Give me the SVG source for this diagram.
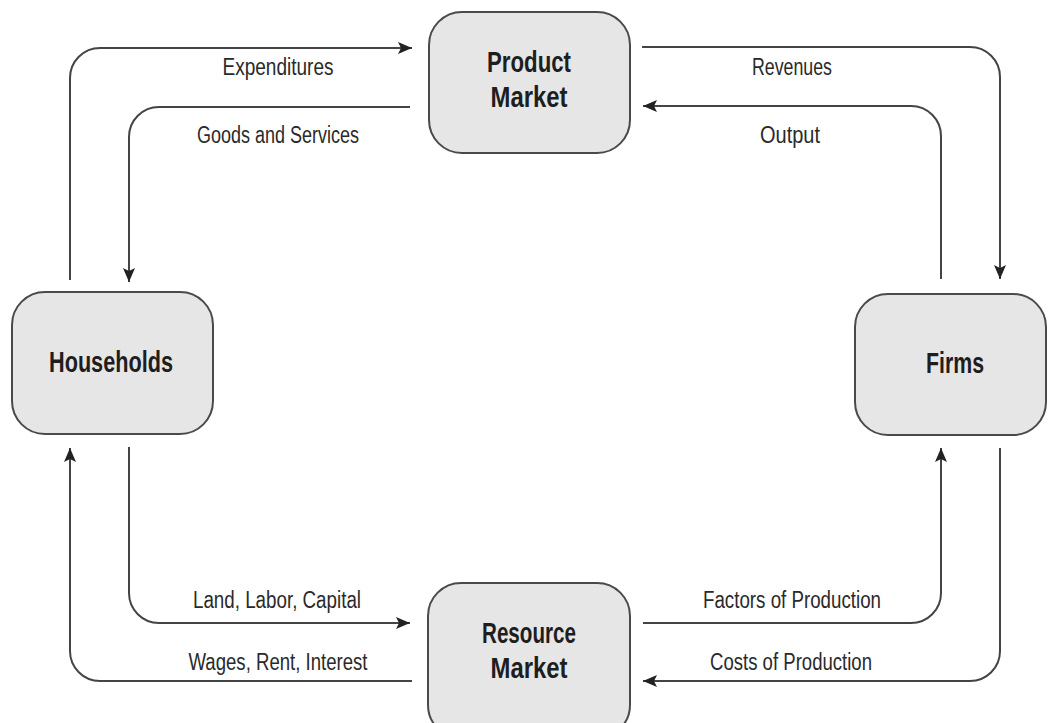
<svg xmlns="http://www.w3.org/2000/svg" width="1048" height="723" viewBox="0 0 1048 723">
<style>
.box{fill:#e6e6e6;stroke:#4a4a4a;stroke-width:2}
.node{font-family:"Liberation Sans",Arial,sans-serif;font-weight:bold;font-size:29px;fill:#1e1e1e;text-anchor:middle}
.lbl{font-family:"Liberation Sans",Arial,sans-serif;font-size:23px;fill:#2a2a2a;text-anchor:middle}
.con{fill:none;stroke:#444;stroke-width:2}
</style>
<defs>
<marker id="ah" markerUnits="userSpaceOnUse" markerWidth="16" markerHeight="14" refX="14" refY="6" orient="auto">
<path d="M0,0 L14,6 L0,12 L3,6 Z" fill="#222"/>
</marker>
</defs>
<rect width="1048" height="723" fill="#ffffff"/>
<g id="connectors">
<path class="con" d="M70,280 V78 A30,30 0 0 1 100,48 H412" marker-end="url(#ah)"/>
<path class="con" d="M410,107 H159 A30,30 0 0 0 129,137 V282" marker-end="url(#ah)"/>
<path class="con" d="M642,47 H970 A30,30 0 0 1 1000,77 V279" marker-end="url(#ah)"/>
<path class="con" d="M941,279 V136 A30,30 0 0 0 911,106 H643" marker-end="url(#ah)"/>
<path class="con" d="M412,681 H100 A30,30 0 0 1 70,651 V448" marker-end="url(#ah)"/>
<path class="con" d="M129,447 V593 A30,30 0 0 0 159,623 H410" marker-end="url(#ah)"/>
<path class="con" d="M643,623 H911 A30,30 0 0 0 941,593 V448" marker-end="url(#ah)"/>
<path class="con" d="M1000,448 V651 A30,30 0 0 1 970,681 H643" marker-end="url(#ah)"/>
<text class="lbl" x="278" y="75" textLength="111" lengthAdjust="spacingAndGlyphs">Expenditures</text>
<text class="lbl" x="278" y="143" textLength="162" lengthAdjust="spacingAndGlyphs">Goods and Services</text>
<text class="lbl" x="792" y="75" textLength="80" lengthAdjust="spacingAndGlyphs">Revenues</text>
<text class="lbl" x="790" y="143" textLength="60" lengthAdjust="spacingAndGlyphs">Output</text>
<text class="lbl" x="277" y="608" textLength="168" lengthAdjust="spacingAndGlyphs">Land, Labor, Capital</text>
<text class="lbl" x="278" y="670" textLength="179" lengthAdjust="spacingAndGlyphs">Wages, Rent, Interest</text>
<text class="lbl" x="792" y="608" textLength="178" lengthAdjust="spacingAndGlyphs">Factors of Production</text>
<text class="lbl" x="791" y="670" textLength="162" lengthAdjust="spacingAndGlyphs">Costs of Production</text>
</g>
<g id="product-market">
<rect class="box" x="429" y="12" width="201" height="141" rx="33"/>
<text class="node" x="529" y="72" textLength="84" lengthAdjust="spacingAndGlyphs">Product</text>
<text class="node" x="529" y="107" textLength="77" lengthAdjust="spacingAndGlyphs">Market</text>
</g>
<g id="households">
<rect class="box" x="12" y="292" width="201" height="142" rx="33"/>
<text class="node" x="111" y="372" textLength="124" lengthAdjust="spacingAndGlyphs">Households</text>
</g>
<g id="firms">
<rect class="box" x="855" y="294" width="191" height="141" rx="33"/>
<text class="node" x="955" y="373" textLength="58" lengthAdjust="spacingAndGlyphs">Firms</text>
</g>
<g id="resource-market">
<rect class="box" x="428" y="583" width="202" height="155" rx="33"/>
<text class="node" x="529" y="643" textLength="94" lengthAdjust="spacingAndGlyphs">Resource</text>
<text class="node" x="529" y="678" textLength="77" lengthAdjust="spacingAndGlyphs">Market</text>
</g>
</svg>
